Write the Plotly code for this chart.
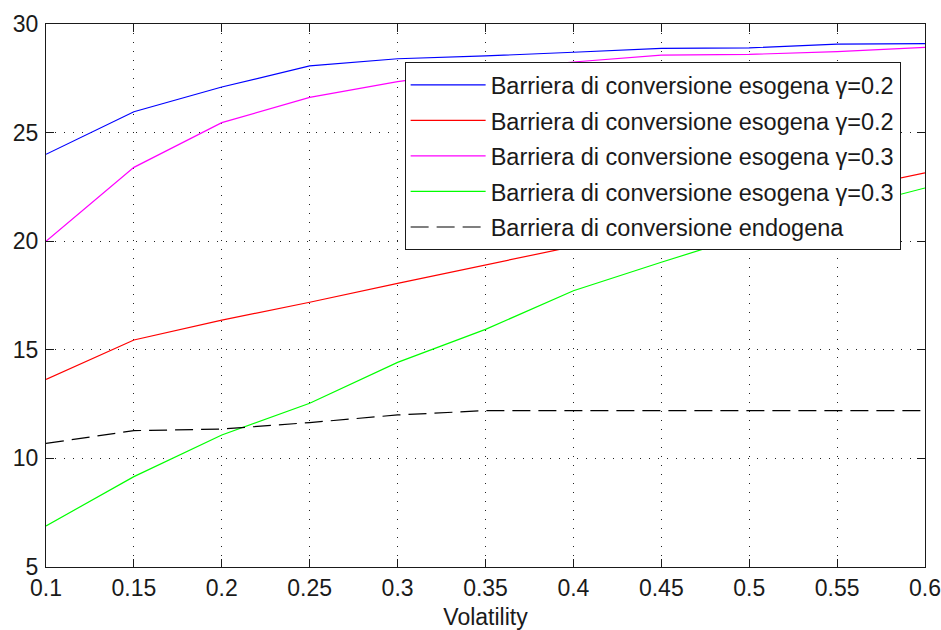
import plotly.graph_objects as go

volatility = [0.1, 0.15, 0.2, 0.25, 0.3, 0.35, 0.4, 0.45, 0.5, 0.55, 0.6]

eso_02_a = [24.0, 25.96, 27.1, 28.07, 28.4, 28.53, 28.7, 28.88, 28.9, 29.07, 29.1]
eso_02_b = [13.64, 15.45, 16.37, 17.19, 18.06, 18.9, 19.75, 20.6, 21.45, 22.3, 23.15]
eso_03_a = [20.0, 23.4, 25.46, 26.62, 27.35, 27.9, 28.25, 28.57, 28.6, 28.73, 28.92]
eso_03_b = [6.89, 9.16, 11.08, 12.54, 14.42, 15.94, 17.72, 19.03, 20.3, 21.4, 22.45]
endogena = [10.69, 11.28, 11.35, 11.65, 12.0, 12.2, 12.2, 12.2, 12.2, 12.2, 12.2]

names = [
    "Barriera di conversione esogena γ=0.2",
    "Barriera di conversione esogena γ=0.2",
    "Barriera di conversione esogena γ=0.3",
    "Barriera di conversione esogena γ=0.3",
    "Barriera di conversione endogena",
]
series = [eso_02_a, eso_02_b, eso_03_a, eso_03_b, endogena]
colors = ["#0000FF", "#FF0000", "#FF00FF", "#00FF00", "#000000"]
dashes = ["solid", "solid", "solid", "solid", "18px,8px"]

x_ticks = [0.1, 0.15, 0.2, 0.25, 0.3, 0.35, 0.4, 0.45, 0.5, 0.55, 0.6]
x_labels = ["0.1", "0.15", "0.2", "0.25", "0.3", "0.35", "0.4", "0.45", "0.5", "0.55", "0.6"]
y_ticks = [5, 10, 15, 20, 25, 30]

FONT = "Liberation Sans, Arial, sans-serif"

fig = go.Figure()
for i, (name, ys, c, d) in enumerate(zip(names, series, colors, dashes)):
    fig.add_trace(go.Scatter(
        x=volatility, y=ys, mode="lines", name=name,
        legendgroup=f"g{i}",
        line=dict(color=c, width=1.2, dash=d),
    ))

axis_common = dict(
    showline=True, linecolor="#1a1a1a", linewidth=1, mirror="allticks",
    ticks="inside", ticklen=8, tickcolor="#1a1a1a", tickwidth=1,
    showgrid=True, gridcolor="#222222", gridwidth=1, griddash="1px,8px",
    zeroline=False,
    tickfont=dict(family=FONT, size=23, color="#1a1a1a"),
)

fig.update_xaxes(
    range=[0.1, 0.6], tickvals=x_ticks, ticktext=x_labels,
    title=dict(text="Volatility", font=dict(family=FONT, size=23, color="#1a1a1a"), standoff=10),
    **axis_common,
)
fig.update_yaxes(range=[5, 30], tickvals=y_ticks, ticklabelstandoff=2, **axis_common)

fig.update_layout(
    width=941, height=630,
    margin=dict(l=46, r=16, t=24, b=63, autoexpand=False),
    paper_bgcolor="white", plot_bgcolor="white",
    font=dict(family=FONT, size=23, color="#1a1a1a"),
    legend=dict(
        x=0.408, y=0.93, xanchor="left", yanchor="top",
        bgcolor="white", bordercolor="#1a1a1a", borderwidth=1,
        font=dict(family=FONT, size=23.5, color="#1a1a1a"),
        tracegroupgap=2, itemwidth=75,
    ),
    showlegend=True,
)

# remove the default 8px body margin so the 941x630 figure fills the window exactly
fig.write_html(
    "out.html",
    config={"displayModeBar": False},
    post_script="document.body.style.margin='0';",
)
